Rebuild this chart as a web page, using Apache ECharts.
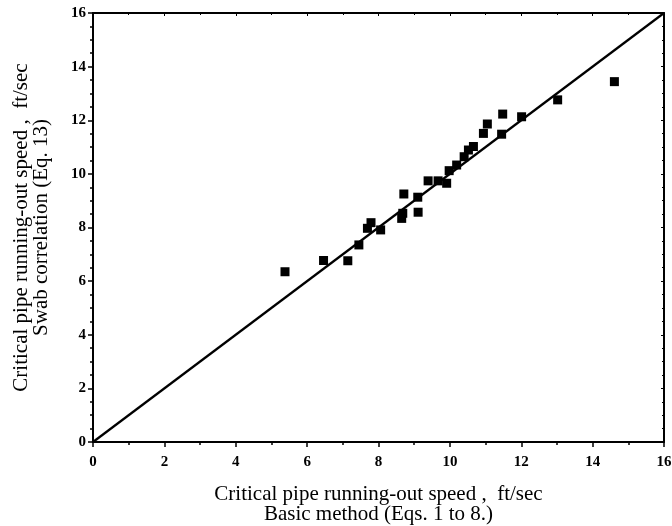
<!DOCTYPE html>
<html><head><meta charset="utf-8">
<script src="https://cdn.jsdelivr.net/npm/echarts@6/dist/echarts.min.js"></script>
<style>html,body{margin:0;padding:0;background:#fff}#c{width:672px;height:526px}</style>
</head><body><div id="c"></div>
<script>
var basicMethod = [5.38,6.46,7.14,7.45,7.69,7.79,8.06,8.65,8.68,8.71,9.10,9.11,9.39,9.67,9.91,9.98,10.19,10.40,10.52,10.66,10.94,11.05,11.45,11.48,12.01,13.02,14.61];
var swabCorrelation = [6.35,6.77,6.76,7.35,7.97,8.18,7.91,8.34,8.53,9.25,9.13,8.57,9.74,9.74,9.65,10.12,10.33,10.64,10.89,11.02,11.51,11.86,11.48,12.23,12.13,12.76,13.44];
var equalityLine = [[0,0],[16,16]];
var tickLabels = ['0','2','4','6','8','10','12','14','16'];
var xNameLines = ['Critical pipe running-out speed ,  ft/sec','Basic method (Eqs. 1 to 8.)'];
var yNameLines = ['Critical pipe running-out speed ,  ft/sec','Swab correlation (Eq. 13)'];

var pts = basicMethod.map(function(x,i){return [x, swabCorrelation[i]];});
var font = '"Liberation Serif","DejaVu Serif",serif';
var axisCommon = {
  min:0, max:16, interval:2,
  axisLine:{show:true, onZero:false, lineStyle:{color:'#000', width:2}},
  splitLine:{show:false},
  minorSplitLine:{show:false}
};
function labelFmt(v){ var i = Math.round(v/2); return tickLabels[i] !== undefined ? tickLabels[i] : ''; }
var chart = echarts.init(document.getElementById('c'));
chart.setOption({
  animation:false,
  backgroundColor:'#fff',
  grid:{left:93, right:8, top:13, bottom:84, containLabel:false, outerBoundsMode:'none'},
  xAxis:[
    Object.assign({}, axisCommon, {type:'value', position:'bottom',
      name: xNameLines.join('\n'), nameLocation:'middle', nameGap:42,
      nameTextStyle:{fontFamily:font, fontSize:21, color:'#000', lineHeight:20},
      axisTick:{show:true, inside:false, length:5, lineStyle:{color:'#000', width:1.5}},
      minorTick:{show:true, splitNumber:2, length:3, lineStyle:{color:'#000', width:1.5}},
      axisLabel:{formatter:labelFmt, fontFamily:font, fontSize:15, fontWeight:'bold', color:'#000', margin:13}}),
    Object.assign({}, axisCommon, {type:'value', position:'top',
      axisTick:{show:true, inside:true, length:3, lineStyle:{color:'#000'}},
      minorTick:{show:true, splitNumber:2, length:2, lineStyle:{color:'#000'}},
      axisLabel:{show:false}})
  ],
  yAxis:[
    Object.assign({}, axisCommon, {type:'value', position:'left',
      name: yNameLines.join('\n'), nameLocation:'middle', nameGap:42, nameRotate:90,
      nameTextStyle:{fontFamily:font, fontSize:21, color:'#000', lineHeight:20},
      axisTick:{show:true, inside:false, length:5, lineStyle:{color:'#000', width:1.5}},
      minorTick:{show:true, splitNumber:4, length:3, lineStyle:{color:'#000', width:1.5}},
      axisLabel:{formatter:labelFmt, fontFamily:font, fontSize:15, fontWeight:'bold', color:'#000', margin:7}}),
    Object.assign({}, axisCommon, {type:'value', position:'right',
      axisTick:{show:true, inside:true, length:3, lineStyle:{color:'#000'}},
      minorTick:{show:true, splitNumber:4, length:2, lineStyle:{color:'#000'}},
      axisLabel:{show:false}})
  ],
  series:[
    {type:'line', data:equalityLine, xAxisIndex:0, yAxisIndex:0, symbol:'none',
     lineStyle:{color:'#000', width:2.2}, silent:true},
    {type:'scatter', data:pts, xAxisIndex:0, yAxisIndex:0, symbol:'rect', symbolSize:9,
     itemStyle:{color:'#000', opacity:1}}
  ]
});
</script></body></html>
